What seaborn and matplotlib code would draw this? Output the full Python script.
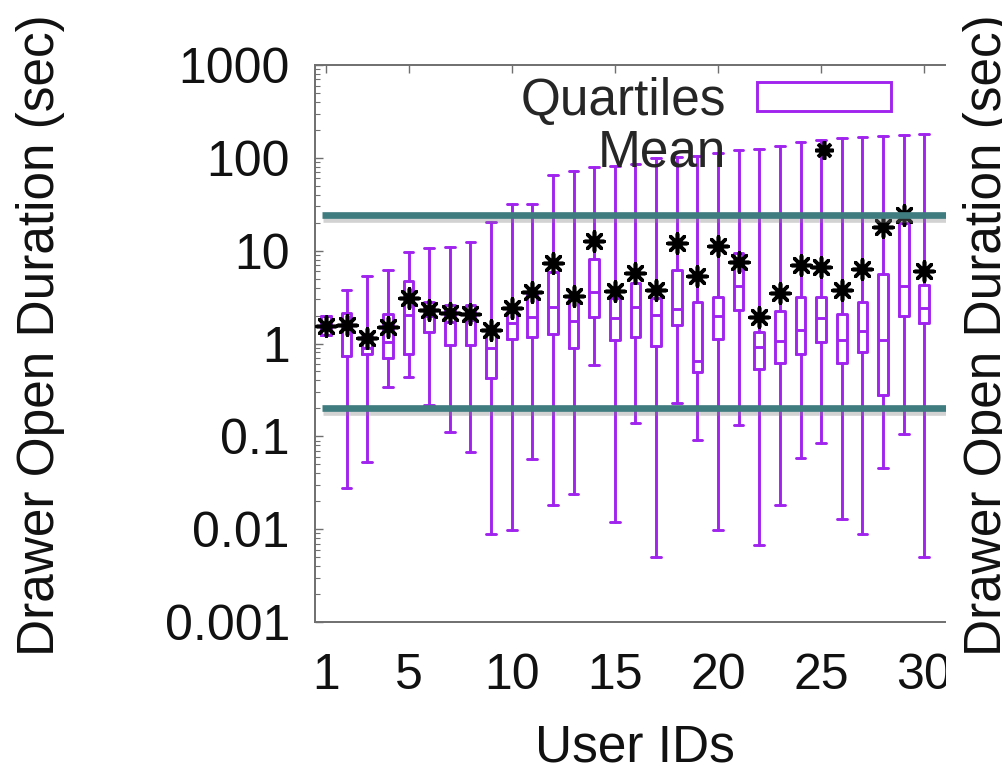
import numpy as np
import pandas as pd
import matplotlib
matplotlib.use("Agg")
import matplotlib.pyplot as plt
import seaborn as sns
from matplotlib.lines import Line2D
from matplotlib.patches import Patch, Rectangle
import matplotlib.patheffects as pe
from matplotlib.ticker import LogLocator, NullFormatter, FixedLocator

# ---------------- data ----------------
users = list(range(1, 31))
whisker_low = [1.25, 0.0275, 0.053, 0.34, 0.44, 0.22, 0.112, 0.068, 0.0088, 0.0099,
               0.057, 0.018, 0.0237, 0.585, 0.0118, 0.138, 0.005, 0.226, 0.091, 0.0099,
               0.132, 0.0067, 0.018, 0.058, 0.085, 0.013, 0.0088, 0.046, 0.106, 0.005]
q1 = [1.25, 0.73, 0.78, 0.69, 0.78, 1.34, 0.96, 0.96, 0.43, 1.13,
      1.17, 1.28, 0.90, 1.94, 1.09, 1.17, 0.95, 1.58, 0.495, 1.12,
      2.30, 0.526, 0.61, 0.78, 1.04, 0.61, 0.80, 0.278, 2.00, 1.65]
median = [1.50, 1.45, 0.89, 1.04, 2.02, 2.00, 1.71, 1.80, 0.89, 1.65,
          1.94, 2.49, 1.75, 3.60, 1.86, 2.48, 2.02, 2.35, 0.64, 2.00,
          4.20, 0.92, 1.07, 1.39, 1.86, 1.10, 1.37, 1.10, 4.20, 2.42]
q3 = [1.98, 2.14, 1.20, 2.10, 4.70, 2.80, 2.60, 2.60, 1.30, 2.17,
      3.45, 5.90, 3.10, 8.05, 3.10, 4.44, 3.06, 6.20, 2.82, 3.19,
      9.50, 1.34, 2.25, 3.15, 3.15, 2.10, 2.80, 5.60, 19.7, 4.26]
whisker_high = [1.98, 3.76, 5.3, 6.2, 9.7, 10.7, 11.0, 12.5, 20.5, 31.8,
                31.8, 65, 72, 80, 82, 86, 100, 102, 105, 112,
                121, 126, 134, 149, 155, 162, 166, 172, 176, 180]
mean = [1.55, 1.57, 1.16, 1.52, 3.06, 2.29, 2.14, 2.10, 1.39, 2.39,
        3.60, 7.30, 3.27, 12.7, 3.67, 5.70, 3.76, 12.0, 5.30, 11.3,
        7.60, 1.94, 3.47, 7.00, 6.60, 3.76, 6.40, 18.1, 24.2, 6.07]
thresholds = [24.0, 0.2]
x_ticks = [1, 5, 10, 15, 20, 25, 30]
y_ticks = [0.001, 0.01, 0.1, 1, 10, 100, 1000]
y_tick_labels = ["0.001", "0.01", "0.1", "1", "10", "100", "1000"]

purple = "#a024ee"
teal = "#3f7c80"
frame = "#6f6f6f"
FS = 36

sns.set_theme(style="white")
plt.rcParams["font.family"] = ["Liberation Sans", "DejaVu Sans"]

W, H = 1002, 775
fig = plt.figure(figsize=(W / 100, H / 100), dpi=100)
L, R, T, B = 315, 946, 65, 622
ax = fig.add_axes([L / W, 1 - B / H, (R - L) / W, (B - T) / H])

stats = [dict(whislo=lo, q1=a, med=m, q3=b, whishi=hi, label=str(u))
         for u, lo, a, m, b, hi in zip(users, whisker_low, q1, median, q3, whisker_high)]
lw = 2.1
ax.bxp(stats, positions=users, widths=0.47, capwidths=0.47, showfliers=False,
       manage_ticks=False,
       boxprops=dict(color=purple, linewidth=lw),
       whiskerprops=dict(color=purple, linewidth=lw),
       capprops=dict(color=purple, linewidth=lw),
       medianprops=dict(color=purple, linewidth=lw))

df = pd.DataFrame({"user": users, "mean": mean})
sns.scatterplot(data=df, x="user", y="mean", marker=(8, 2, 0), color="black",
                s=190, linewidth=2.6, ax=ax, zorder=5, legend=False)

shadow = [pe.SimpleLineShadow(offset=(0.5, -2.5), shadow_color="gray", alpha=0.35),
          pe.Normal()]
for t in thresholds:
    ax.plot([0.8, 32], [t, t], color=teal, linewidth=4.8, solid_capstyle="butt",
            zorder=6, path_effects=shadow)

ax.set_yscale("log")
ax.set_ylim(0.001, 1000)
ax.set_xlim(0.467, 31.05)
ax.yaxis.set_major_locator(FixedLocator(y_ticks))
ax.set_yticklabels(y_tick_labels)
ax.yaxis.set_minor_locator(LogLocator(base=10, subs=np.arange(2, 10)))
ax.yaxis.set_minor_formatter(NullFormatter())
ax.set_xticks(x_ticks)
ax.set_xticklabels([str(v) for v in x_ticks])
ax.set_xlabel("")
ax.set_ylabel("")

for side in ["left", "bottom", "top"]:
    ax.spines[side].set_color(frame)
    ax.spines[side].set_linewidth(1.4)
ax.spines["right"].set_visible(False)
ax.tick_params(axis="both", which="major", direction="in", length=6, width=1,
               color=frame, labelsize=FS, labelcolor="#111111")
ax.tick_params(axis="x", top=True, pad=22)
ax.tick_params(axis="y", left=True, right=False, pad=18)
ax.tick_params(axis="y", which="minor", direction="in", length=3.5, width=0.8,
               color=frame, left=True, right=False)

handles = [Patch(facecolor="white", edgecolor=purple, linewidth=lw),
           Line2D([], [], marker=(8, 2, 0), color="black", linestyle="",
                  markersize=13, markeredgewidth=2.6)]
leg = ax.legend(handles, ["Quartiles", "Mean"], loc="upper right",
                bbox_to_anchor=(891 / W, 1 - 77 / H), bbox_transform=fig.transFigure,
                frameon=False, markerfirst=False, fontsize=FS + 1,
                handlelength=2.6, handleheight=0.5, handletextpad=0.6,
                labelspacing=0.04, borderpad=0, borderaxespad=0)
leg.set_zorder(10)

# white gap where the neighbouring panel was cut off
fig.patches.append(Rectangle((R / W, 0), 11 / W, 1, transform=fig.transFigure,
                             facecolor="white", edgecolor="none", zorder=20))

fig.text(41 / W, 1 - 335 / H, "Drawer Open Duration (sec)", rotation=90,
         ha="center", va="center", fontsize=FS + 1, color="#111111")
fig.text(987 / W, 1 - 335 / H, "Drawer Open Duration (sec)", rotation=90,
         ha="center", va="center", fontsize=FS + 1, color="#111111", zorder=25)
fig.text(635 / W, 1 - 748 / H, "User IDs", ha="center", va="center",
         fontsize=FS + 1, color="#111111")

fig.savefig("out.png", dpi=100, facecolor="white")
